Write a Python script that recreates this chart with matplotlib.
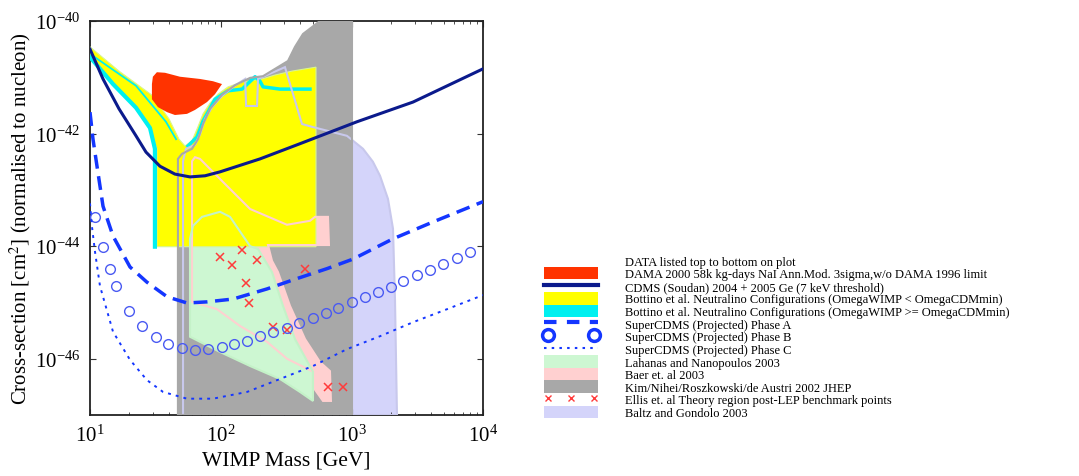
import numpy as np
import matplotlib
matplotlib.use('Agg')
import matplotlib.pyplot as plt
from matplotlib.patches import Patch
from matplotlib.lines import Line2D
from matplotlib.legend_handler import HandlerLine2D
from matplotlib.ticker import FixedLocator, LogLocator, LogFormatterSciNotation, NullLocator

plt.rcParams['font.family'] = ['Liberation Serif', 'DejaVu Serif']
plt.rcParams['mathtext.fontset'] = 'stix'

# WIMP mass in GeV, cross-section given as log10(sigma / cm^2)

# DAMA 2000 region
dama_mass = [32.4, 37.4, 48.6, 69.2, 86.9, 101.8, 98.3, 90.0, 78.2, 63.3, 55.0, 44.5, 38.8, 33.0, 29.7, 29.7, 30.2]
dama_logsig = [-40.91, -40.92, -40.99, -41.03, -41.07, -41.12, -41.17, -41.30, -41.44, -41.58,
               -41.65, -41.67, -41.62, -41.53, -41.39, -41.12, -40.99]

# CDMS Soudan limit
cdms_mass = [10, 12.57, 16.65, 22.44, 26.77, 34.2, 44.5, 58.0, 75.5, 98.3, 198.5, 400.7, 1092, 2922, 10000]
cdms_logsig = [-40.50, -41.03, -41.56, -42.04, -42.33, -42.58, -42.72, -42.77, -42.75, -42.68,
               -42.45, -42.18, -41.79, -41.44, -40.85]

# Bottino (OmegaWIMP < OmegaCDMmin)
bot_low_mass = [10, 16.65, 30.2, 40.1, 47.8, 53.1, 60.1, 66.7, 72.9, 82.5, 94.9, 113.3, 147.5, 205.6,
                258.2, 348.1, 530.8, 530.8, 32.4, 32.4, 28.7, 22.44, 14.98, 10]
bot_low_logsig = [-40.46, -40.89, -41.33, -41.74, -42.10, -42.22, -42.13, -41.88, -41.65, -41.46,
                  -41.30, -41.17, -41.08, -41.03, -40.96, -40.89, -40.82, -44.01, -44.01, -42.27,
                  -41.92, -41.56, -41.12, -40.67]

# Bottino (OmegaWIMP >= OmegaCDMmin), thin configurations along the edges
bot_high_outer_mass = [10, 14.98, 22.44, 28.7, 31.3, 31.3]
bot_high_outer_logsig = [-40.64, -41.12, -41.54, -41.90, -42.27, -44.01]
bot_high_inner_mass = [10.54, 22.44, 38.0, 45.4]
bot_high_inner_logsig = [-40.62, -41.15, -41.79, -42.10]
bot_high_top_mass = [56.0, 65.6, 72.9, 90.0, 113.3, 144.9, 181.9, 198.5, 209.3, 282.0, 477.8]
bot_high_top_logsig = [-42.22, -42.06, -41.78, -41.39, -41.24, -41.21, -40.99, -41.07, -41.17, -41.21, -41.21]

# SuperCDMS projections
phase_a_mass = [10, 10.54, 11.31, 12.57, 14.98, 20.2, 27.2, 38.8, 55.0, 78.2, 123.5, 224.5, 354.3,
                644.0, 1017.7, 2056, 4153, 10000]
phase_a_logsig = [-41.62, -42.10, -42.58, -43.29, -43.82, -44.37, -44.64, -44.90, -45.01, -44.99,
                  -44.94, -44.76, -44.60, -44.40, -44.23, -43.87, -43.57, -43.21]
phase_b_mass = [10.9, 12.6, 14.2, 15.8, 19.9, 24.9, 31.9, 39.4, 50.4, 63.3, 79.6, 101.8, 125.7, 158,
                198.5, 249.4, 319, 394, 504, 633, 782, 1000, 1257, 1580, 1985, 2451, 3135, 3940,
                4952, 6333, 7961]
phase_b_logsig = [-43.48, -44.01, -44.41, -44.71, -45.15, -45.42, -45.61, -45.74, -45.81, -45.84,
                  -45.83, -45.79, -45.74, -45.68, -45.60, -45.52, -45.45, -45.36, -45.28, -45.19,
                  -45.10, -44.99, -44.90, -44.81, -44.73, -44.62, -44.51, -44.42, -44.32, -44.21,
                  -44.10]
phase_c_mass = [10, 10.36, 10.92, 11.92, 14.98, 20.2, 27.2, 36.1, 55.0, 86.9, 158.2, 282.0, 503.6,
                915.0, 1637, 2935, 5314, 10000]
phase_c_logsig = [-43.24, -43.66, -44.10, -44.71, -45.52, -46.02, -46.38, -46.59, -46.71, -46.71,
                  -46.59, -46.36, -46.13, -45.83, -45.60, -45.35, -45.12, -44.87]

# Lahanas and Nanopoulos 2003
lahanas_mass = [58.0, 58.0, 61.1, 71.6, 98.3, 117.3, 147.5, 166.8, 191.7, 245.0, 297.2, 367.0, 503.6,
                503.6, 400.7, 282.0, 166.8, 98.3]
lahanas_logsig = [-45.61, -43.87, -43.64, -43.48, -43.39, -43.48, -43.82, -44.00, -44.05, -44.46,
                  -45.06, -45.65, -46.23, -46.75, -46.59, -46.36, -46.13, -45.88]

# Baer et al 2003
baer_mass = [60.1, 60.1, 63.3, 69.2, 103.6, 166.8, 318.8, 477.8, 521.6, 655.4, 667.0, 530.8, 228.4,
             245.0, 272.2, 336.1, 437.6, 569.5, 678.8, 690.8, 600.5, 503.6, 503.6, 318.8, 224.5,
             140.0, 93.2]
baer_logsig = [-44.99, -42.49, -42.42, -42.45, -42.86, -43.34, -43.62, -43.55, -43.48, -43.48,
               -43.98, -43.98, -43.98, -44.26, -44.46, -45.06, -45.65, -46.06, -46.22, -46.75,
               -46.75, -46.50, -46.23, -46.00, -45.70, -45.42, -45.12]

# Kim/Nihei/Roszkowski/de Austri 2002
kim_mass = [46.9, 46.9, 50.4, 60.1, 66.7, 72.9, 82.5, 101.8, 127.9, 166.8, 209.3, 324.7, 367.0,
            422.7, 569.5, 1000, 1000]
kim_logsig = [-47.0, -42.45, -42.36, -42.27, -42.10, -41.83, -41.56, -41.31, -41.14, -41.01, -40.98,
              -40.71, -40.46, -40.23, -40.0, -40.0, -47.0]

# Ellis et al benchmark points
ellis_mass = [144.9, 98.3, 121.5, 188.4, 155.5, 163.9, 249.4, 318.8, 437.6, 655.4, 853.1]
ellis_logsig = [-44.07, -44.19, -44.33, -44.25, -44.65, -45.01, -45.44, -45.49, -44.40, -46.50, -46.50]

# Baltz and Gondolo 2003
baltz_mass = [51.3, 51.3, 54.1, 63.3, 69.2, 75.5, 85.4, 101.8, 123.6, 152.8, 155.5, 188.4, 191.7,
              224.5, 307.8, 415.1, 494.8, 915.0, 1213, 1444, 1637, 1882, 2056, 2129, 2205]
baltz_logsig = [-47.0, -42.49, -42.27, -42.20, -42.01, -41.74, -41.53, -41.33, -41.17, -41.03,
                -41.51, -41.51, -41.03, -40.96, -40.82, -41.83, -41.88, -42.04, -42.27, -42.50,
                -42.75, -43.16, -43.69, -44.94, -47.0]

labels = [
    'DATA listed top to bottom on plot',
    'DAMA 2000 58k kg-days NaI Ann.Mod. 3sigma,w/o DAMA 1996 limit',
    'CDMS (Soudan) 2004 + 2005 Ge (7 keV threshold)',
    'Bottino et al. Neutralino Configurations (OmegaWIMP < OmegaCDMmin)',
    'Bottino et al. Neutralino Configurations (OmegaWIMP >= OmegaCDMmin)',
    'SuperCDMS (Projected) Phase A',
    'SuperCDMS (Projected) Phase B',
    'SuperCDMS (Projected) Phase C',
    'Lahanas and Nanopoulos 2003',
    'Baer et. al 2003',
    'Kim/Nihei/Roszkowski/de Austri 2002 JHEP',
    'Ellis et. al Theory region post-LEP benchmark points',
    'Baltz and Gondolo 2003',
]

c_red = '#ff3300'
c_navy = '#0b1a8c'
c_yellow = '#ffff00'
c_cyan = '#00f0f0'
c_blue = '#1436ff'
c_green = '#cdf7d2'
c_pink = '#ffd0d0'
c_gray = '#a8a8a8'
c_lav = '#d4d4fa'


def sig(v):
    return np.power(10.0, np.asarray(v))


fig = plt.figure(figsize=(10.79, 4.77), dpi=100)
ax = fig.add_axes([90 / 1079, 61 / 477, 393 / 1079, 394 / 477])
ax.set_xscale('log')
ax.set_yscale('log')

# region fills
ax.fill(baltz_mass, sig(baltz_logsig), color=c_lav, lw=0, zorder=1)
ax.fill(kim_mass, sig(kim_logsig), color=c_gray, lw=0, zorder=2)
ax.fill(baer_mass, sig(baer_logsig), color=c_pink, lw=0, zorder=3)
ax.fill(lahanas_mass, sig(lahanas_logsig), color=c_green, lw=0, zorder=4)
ax.fill(bot_low_mass, sig(bot_low_logsig), facecolor=c_yellow, edgecolor='#d8f590', lw=0.8, zorder=5)
ax.plot(bot_high_outer_mass, sig(bot_high_outer_logsig), color=c_cyan, lw=3, zorder=6)
ax.plot(bot_high_inner_mass, sig(bot_high_inner_logsig), color=c_cyan, lw=1.3, zorder=6)
ax.plot(bot_high_top_mass, sig(bot_high_top_logsig), color=c_cyan, lw=2.5, zorder=6)

# region outlines, drawn over the fills
ax.fill(baltz_mass, sig(baltz_logsig), facecolor='none', edgecolor='#c8c8ec', lw=1.5, zorder=7)
ax.fill(kim_mass, sig(kim_logsig), facecolor='none', edgecolor=c_gray, lw=1.5, zorder=7)
ax.fill(baer_mass, sig(baer_logsig), facecolor='none', edgecolor=c_pink, lw=1.5, zorder=7)
ax.fill(lahanas_mass, sig(lahanas_logsig), facecolor='none', edgecolor='#c4f2c8', lw=1.5, zorder=7)

ax.fill(dama_mass, sig(dama_logsig), color=c_red, lw=0, zorder=8)

ax.plot(ellis_mass, sig(ellis_logsig), ls='none', marker='x', ms=5.5, mew=1.1, color='#ff3b3b', zorder=9)
ax.plot(cdms_mass, sig(cdms_logsig), color=c_navy, lw=2.2, zorder=10)
ax.plot(phase_a_mass, sig(phase_a_logsig), color=c_blue, lw=2.5, dashes=(4, 2.2), zorder=10)
ax.plot(phase_b_mass, sig(phase_b_logsig), ls='none', marker='o', ms=7, mfc='none', mec='#4a5af2',
        mew=1.0, zorder=10)
ax.plot(phase_c_mass, sig(phase_c_logsig), color=c_blue, lw=1.4, dashes=(1.5, 2.6), zorder=10)

ax.set_xlim(10, 1e4)
ax.set_ylim(1e-47, 1e-40)
ax.xaxis.set_major_locator(LogLocator(base=10, numticks=10))
ax.xaxis.set_minor_locator(LogLocator(base=10, subs=np.arange(2, 10), numticks=20))
ax.yaxis.set_major_locator(FixedLocator([1e-46, 1e-44, 1e-42, 1e-40]))
ax.yaxis.set_minor_locator(NullLocator())
ax.xaxis.set_major_formatter(LogFormatterSciNotation())
ax.yaxis.set_major_formatter(LogFormatterSciNotation())
ax.tick_params(which='both', direction='in', top=True, right=True, labelsize=15, color='#333333')
ax.tick_params(which='major', length=4, width=0.8)
ax.tick_params(which='minor', length=2.5, width=0.6)
ax.tick_params(axis='x', pad=7)
ax.tick_params(axis='y', pad=7)
for s in ax.spines.values():
    s.set_linewidth(1.3)
    s.set_color('#222222')

ax.set_xlabel('WIMP Mass [GeV]', fontsize=15.5)
ax.set_ylabel('Cross-section [cm$^2$] (normalised to nucleon)', fontsize=15)
ax.xaxis.set_label_coords(0.5, -0.09)
ax.yaxis.set_label_coords(-0.145, 0.5)

# legend
h_data = Line2D([], [], ls='none')
h_b = Line2D([], [], ls='none', marker='o', ms=8.5, mfc='none', mec=c_blue, mew=2.5)
h_ellis = Line2D([], [], ls='none', marker='x', ms=4, mew=1.0, color='#ff3b3b')
handles = [
    h_data,
    Patch(facecolor=c_red, edgecolor='none'),
    Line2D([], [], color=c_navy, lw=3),
    Patch(facecolor=c_yellow, edgecolor='none'),
    Patch(facecolor=c_cyan, edgecolor='none'),
    Line2D([], [], color=c_blue, lw=3, dashes=(3, 2.5)),
    h_b,
    Line2D([], [], color=c_blue, lw=1.5, dashes=(1.2, 2.5)),
    Patch(facecolor=c_green, edgecolor='none'),
    Patch(facecolor=c_pink, edgecolor='none'),
    Patch(facecolor=c_gray, edgecolor='none'),
    h_ellis,
    Patch(facecolor=c_lav, edgecolor='none'),
]
fig.legend(handles, labels, loc='upper left', bbox_to_anchor=(544 / 1079, 1 - 255 / 477),
           bbox_transform=fig.transFigure, frameon=False, fontsize=9, handlelength=4.3,
           handleheight=1.2, handletextpad=2.2, labelspacing=-0.08, borderpad=0, borderaxespad=0,
           handler_map={h_b: HandlerLine2D(numpoints=2), h_ellis: HandlerLine2D(numpoints=3)})

fig.savefig('out.png', dpi=100)
